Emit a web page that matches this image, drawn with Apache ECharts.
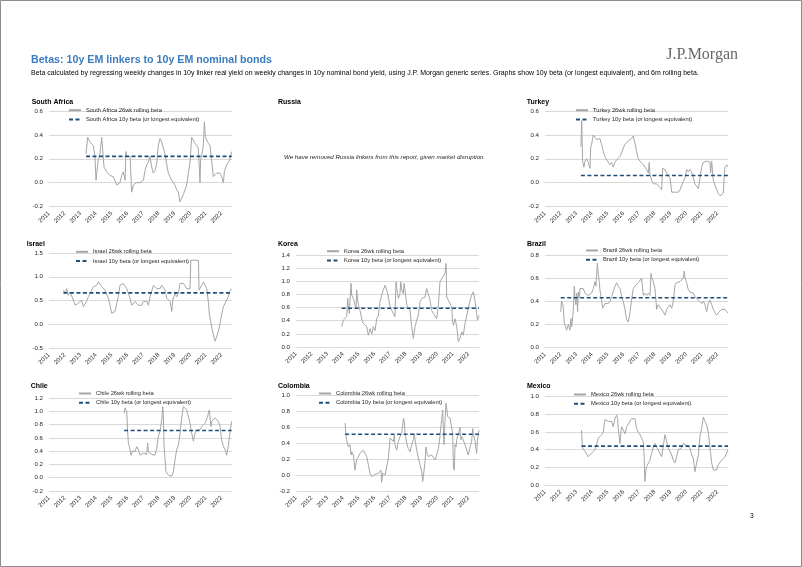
<!DOCTYPE html>
<html><head><meta charset="utf-8">
<script src="https://cdn.jsdelivr.net/npm/echarts@6/dist/echarts.min.js"></script>
<style>html,body{margin:0;padding:0;background:#fff}#c{width:802px;height:567px}</style>
</head><body><div id="c"></div>
<script>
// ---------- DATA ----------
const yearTicks = [2011,2012,2013,2014,2015,2016,2017,2018,2019,2020,2021,2022];
const xMin = 2011, xMax = 2022.67;

const countries = ['South Africa','Turkey','Israel','Korea','Brazil','Chile','Colombia','Mexico'];
const tenYearBeta = [0.22, 0.06, 0.66, 0.59, 0.43, 0.71, 0.51, 0.44];

const southAfrica = [[2013.36,0.24],[2013.47,0.38],[2013.61,0.34],[2013.72,0.34],[2013.83,0.31],[2013.93,0.22],[2014.00,0.02],[2014.15,0.20],[2014.25,0.24],[2014.36,0.38],[2014.46,0.39],[2014.51,0.13],[2014.68,0.09],[2014.89,0.06],[2015.10,0.05],[2015.32,-0.02],[2015.42,-0.03],[2015.53,0.00],[2015.63,0.06],[2015.74,0.09],[2015.85,0.02],[2015.91,0.26],[2015.95,0.22],[2016.06,0.22],[2016.17,0.22],[2016.27,-0.08],[2016.38,-0.02],[2016.48,-0.03],[2016.59,0.00],[2016.80,0.00],[2017.02,0.02],[2017.12,0.10],[2017.23,0.15],[2017.33,0.17],[2017.44,0.22],[2017.55,0.13],[2017.65,0.08],[2017.76,0.10],[2017.87,0.16],[2017.97,0.31],[2018.08,0.37],[2018.19,0.34],[2018.29,0.29],[2018.40,0.24],[2018.50,0.16],[2018.61,0.08],[2018.72,0.05],[2018.82,0.02],[2018.93,0.00],[2019.04,-0.02],[2019.14,-0.06],[2019.25,-0.08],[2019.35,-0.16],[2019.46,-0.17],[2019.57,-0.10],[2019.67,-0.06],[2019.78,-0.02],[2019.89,0.08],[2019.99,0.17],[2020.10,0.38],[2020.20,0.37],[2020.31,0.33],[2020.42,0.31],[2020.52,0.29],[2020.63,0.00],[2020.67,0.19],[2020.74,0.23],[2020.84,0.31],[2020.91,0.51],[2020.97,0.38],[2021.06,0.37],[2021.16,0.33],[2021.27,0.31],[2021.37,0.31],[2021.48,0.05],[2021.59,0.06],[2021.69,0.08],[2021.80,0.09],[2021.91,0.08],[2022.01,0.05],[2022.12,0.00],[2022.18,0.09],[2022.27,0.13],[2022.38,0.16],[2022.52,0.19],[2022.65,0.26]];

const turkey = [[2013.29,0.30],[2013.34,0.52],[2013.40,0.18],[2013.48,0.13],[2013.55,0.18],[2013.65,0.20],[2013.76,0.17],[2013.87,0.12],[2013.91,0.29],[2013.97,0.32],[2014.08,0.40],[2014.19,0.39],[2014.29,0.36],[2014.40,0.35],[2014.50,0.37],[2014.61,0.32],[2014.72,0.26],[2014.82,0.22],[2014.93,0.19],[2015.04,0.18],[2015.14,0.15],[2015.25,0.17],[2015.35,0.13],[2015.46,0.17],[2015.57,0.19],[2015.67,0.20],[2015.78,0.22],[2015.89,0.25],[2015.99,0.29],[2016.10,0.32],[2016.21,0.33],[2016.31,0.35],[2016.42,0.36],[2016.52,0.37],[2016.63,0.39],[2016.74,0.33],[2016.84,0.26],[2016.95,0.20],[2017.06,0.18],[2017.16,0.17],[2017.27,0.15],[2017.37,0.13],[2017.48,0.11],[2017.59,0.08],[2017.65,0.17],[2017.69,0.07],[2017.80,0.02],[2017.91,-0.01],[2018.01,0.00],[2018.12,-0.01],[2018.22,-0.02],[2018.33,-0.04],[2018.44,-0.06],[2018.50,0.12],[2018.59,0.12],[2018.65,0.11],[2018.76,0.08],[2018.86,0.07],[2018.97,0.04],[2019.08,-0.08],[2019.18,-0.09],[2019.29,-0.08],[2019.39,-0.09],[2019.50,-0.08],[2019.61,-0.06],[2019.71,-0.05],[2019.82,0.01],[2019.93,0.04],[2020.03,0.11],[2020.14,0.09],[2020.24,0.11],[2020.35,0.09],[2020.46,0.04],[2020.56,-0.01],[2020.67,-0.02],[2020.78,-0.05],[2020.88,-0.06],[2020.99,0.13],[2021.10,0.17],[2021.20,0.18],[2021.31,0.18],[2021.41,0.18],[2021.52,0.17],[2021.56,0.08],[2021.63,0.18],[2021.73,0.02],[2021.84,-0.02],[2021.95,-0.06],[2022.05,-0.09],[2022.16,-0.11],[2022.26,-0.12],[2022.37,-0.09],[2022.43,0.06],[2022.48,0.13],[2022.58,0.15],[2022.67,0.13]];

const israel = [[2011.92,0.72],[2012.02,0.65],[2012.13,0.75],[2012.23,0.61],[2012.34,0.68],[2012.45,0.72],[2012.55,0.51],[2012.66,0.40],[2012.77,0.40],[2012.87,0.44],[2012.98,0.40],[2013.08,0.51],[2013.19,0.37],[2013.30,0.34],[2013.40,0.48],[2013.51,0.58],[2013.62,0.65],[2013.72,0.72],[2013.83,0.79],[2013.94,0.75],[2014.04,0.82],[2014.15,0.89],[2014.21,0.93],[2014.25,0.89],[2014.36,0.79],[2014.47,0.75],[2014.57,0.72],[2014.68,0.68],[2014.79,0.54],[2014.89,0.40],[2015.00,0.23],[2015.10,0.20],[2015.21,0.27],[2015.32,0.30],[2015.42,0.58],[2015.53,0.82],[2015.64,0.86],[2015.74,0.86],[2015.85,0.84],[2015.96,0.75],[2016.06,0.65],[2016.17,0.55],[2016.27,0.40],[2016.38,0.44],[2016.49,0.48],[2016.59,0.44],[2016.70,0.40],[2016.81,0.44],[2016.91,0.40],[2017.02,0.48],[2017.12,0.44],[2017.23,0.48],[2017.34,0.40],[2017.44,0.58],[2017.55,0.55],[2017.66,0.82],[2017.76,0.79],[2017.87,0.75],[2017.97,0.79],[2018.08,0.75],[2018.19,0.82],[2018.29,0.79],[2018.40,0.72],[2018.51,0.55],[2018.61,0.51],[2018.72,0.48],[2018.83,0.27],[2018.89,0.51],[2018.93,0.55],[2019.04,0.65],[2019.14,0.58],[2019.25,0.65],[2019.36,0.86],[2019.46,0.89],[2019.57,0.86],[2019.68,0.82],[2019.78,0.75],[2019.89,0.72],[2019.99,0.75],[2020.04,1.35],[2020.30,1.35],[2020.53,1.34],[2020.57,0.72],[2020.63,0.72],[2020.74,0.82],[2020.85,0.89],[2020.95,0.86],[2021.06,0.75],[2021.16,0.48],[2021.23,0.20],[2021.31,0.06],[2021.38,-0.08],[2021.48,-0.22],[2021.59,-0.36],[2021.70,-0.33],[2021.80,-0.15],[2021.91,0.02],[2022.01,0.20],[2022.12,0.37],[2022.23,0.44],[2022.33,0.51],[2022.44,0.58],[2022.50,0.68],[2022.65,0.75]];

const korea = [[2013.91,0.31],[2014.02,0.41],[2014.13,0.43],[2014.23,0.46],[2014.30,0.74],[2014.34,0.61],[2014.40,0.51],[2014.44,0.69],[2014.51,0.97],[2014.55,0.79],[2014.66,0.74],[2014.76,0.64],[2014.83,0.59],[2014.87,0.87],[2014.93,0.71],[2014.98,0.64],[2015.08,0.56],[2015.19,0.43],[2015.29,0.36],[2015.40,0.33],[2015.51,0.31],[2015.61,0.18],[2015.72,0.28],[2015.83,0.20],[2015.93,0.31],[2016.04,0.25],[2016.15,0.43],[2016.25,0.48],[2016.36,0.69],[2016.46,0.79],[2016.57,0.87],[2016.68,0.94],[2016.78,0.87],[2016.89,0.76],[2017.00,0.61],[2017.10,0.56],[2017.21,0.53],[2017.31,0.46],[2017.38,0.99],[2017.42,0.89],[2017.53,0.74],[2017.63,0.81],[2017.68,0.99],[2017.74,0.87],[2017.85,0.81],[2017.89,0.97],[2017.95,0.87],[2018.06,0.64],[2018.16,0.61],[2018.27,0.56],[2018.38,0.31],[2018.48,0.13],[2018.59,0.31],[2018.70,0.41],[2018.80,0.48],[2018.91,0.69],[2019.02,0.74],[2019.12,0.76],[2019.23,0.76],[2019.33,0.89],[2019.44,0.81],[2019.55,0.71],[2019.65,0.56],[2019.76,0.51],[2019.87,0.48],[2019.97,0.43],[2020.08,0.64],[2020.18,0.99],[2020.29,1.04],[2020.40,1.07],[2020.50,1.12],[2020.57,1.27],[2020.61,0.76],[2020.72,0.71],[2020.82,0.74],[2020.93,0.61],[2020.99,0.38],[2021.04,0.33],[2021.14,0.43],[2021.25,0.31],[2021.35,0.08],[2021.46,0.13],[2021.57,0.23],[2021.67,0.18],[2021.78,0.36],[2021.89,0.48],[2021.99,0.59],[2022.10,0.71],[2022.20,0.79],[2022.31,0.84],[2022.35,0.87],[2022.42,0.69],[2022.52,0.51],[2022.58,0.41],[2022.67,0.48]];

const brazil = [[2012.00,0.31],[2012.06,0.40],[2012.12,0.38],[2012.17,0.34],[2012.23,0.21],[2012.27,0.20],[2012.38,0.15],[2012.49,0.20],[2012.59,0.15],[2012.66,0.25],[2012.70,0.18],[2012.80,0.31],[2012.87,0.53],[2012.91,0.44],[2012.97,0.37],[2013.02,0.47],[2013.08,0.31],[2013.12,0.48],[2013.19,0.43],[2013.23,0.51],[2013.33,0.50],[2013.44,0.51],[2013.55,0.47],[2013.65,0.48],[2013.76,0.45],[2013.87,0.44],[2013.97,0.47],[2014.08,0.51],[2014.19,0.57],[2014.25,0.53],[2014.29,0.63],[2014.34,0.73],[2014.40,0.63],[2014.46,0.57],[2014.50,0.50],[2014.61,0.41],[2014.67,0.34],[2014.72,0.35],[2014.82,0.38],[2014.93,0.37],[2015.04,0.38],[2015.14,0.40],[2015.25,0.44],[2015.35,0.45],[2015.46,0.53],[2015.57,0.56],[2015.67,0.53],[2015.78,0.51],[2015.89,0.44],[2015.99,0.40],[2016.10,0.33],[2016.21,0.24],[2016.31,0.22],[2016.42,0.30],[2016.52,0.41],[2016.63,0.51],[2016.74,0.53],[2016.84,0.54],[2016.95,0.56],[2017.06,0.57],[2017.16,0.60],[2017.27,0.45],[2017.37,0.47],[2017.48,0.45],[2017.59,0.47],[2017.69,0.45],[2017.76,0.64],[2017.80,0.61],[2017.91,0.57],[2018.01,0.51],[2018.08,0.40],[2018.12,0.33],[2018.22,0.37],[2018.33,0.35],[2018.44,0.33],[2018.54,0.31],[2018.65,0.28],[2018.76,0.33],[2018.86,0.35],[2018.97,0.37],[2019.08,0.34],[2019.18,0.40],[2019.29,0.54],[2019.39,0.56],[2019.50,0.56],[2019.61,0.57],[2019.71,0.58],[2019.82,0.60],[2019.88,0.66],[2019.93,0.60],[2020.03,0.56],[2020.14,0.50],[2020.24,0.48],[2020.35,0.48],[2020.46,0.47],[2020.56,0.44],[2020.67,0.43],[2020.78,0.41],[2020.88,0.40],[2020.99,0.38],[2021.10,0.40],[2021.20,0.37],[2021.31,0.31],[2021.41,0.38],[2021.52,0.41],[2021.63,0.37],[2021.73,0.33],[2021.84,0.30],[2021.95,0.28],[2022.05,0.30],[2022.16,0.31],[2022.26,0.33],[2022.37,0.34],[2022.48,0.33],[2022.58,0.31],[2022.67,0.30]];

const chile = [[2015.79,0.97],[2015.85,1.05],[2015.91,1.07],[2015.96,1.00],[2016.00,0.75],[2016.06,0.52],[2016.13,0.47],[2016.17,0.44],[2016.23,0.34],[2016.27,0.31],[2016.34,0.41],[2016.38,0.44],[2016.49,0.39],[2016.59,0.47],[2016.70,0.42],[2016.81,0.34],[2016.91,0.37],[2017.02,0.37],[2017.12,0.35],[2017.23,0.35],[2017.29,0.52],[2017.34,0.39],[2017.44,0.37],[2017.55,0.35],[2017.66,0.37],[2017.76,0.34],[2017.87,0.44],[2017.97,0.62],[2018.08,0.70],[2018.19,0.87],[2018.25,1.07],[2018.29,0.95],[2018.34,0.47],[2018.40,0.29],[2018.46,0.09],[2018.51,0.07],[2018.61,0.04],[2018.72,0.03],[2018.83,0.02],[2018.93,0.09],[2019.04,0.27],[2019.14,0.42],[2019.25,0.49],[2019.36,0.67],[2019.46,0.90],[2019.57,1.07],[2019.63,1.10],[2019.68,1.07],[2019.78,1.02],[2019.89,1.00],[2019.99,0.82],[2020.10,0.67],[2020.21,0.55],[2020.31,0.67],[2020.42,0.72],[2020.53,0.75],[2020.63,0.72],[2020.74,0.77],[2020.85,0.75],[2020.95,0.82],[2021.06,0.80],[2021.12,0.92],[2021.16,0.97],[2021.23,1.02],[2021.27,0.90],[2021.33,0.77],[2021.38,0.85],[2021.48,0.85],[2021.59,0.90],[2021.70,0.87],[2021.80,0.85],[2021.91,0.77],[2022.01,0.57],[2022.12,0.47],[2022.23,0.42],[2022.33,0.34],[2022.44,0.49],[2022.55,0.70],[2022.65,0.85]];

const colombia = [[2014.13,0.65],[2014.19,0.48],[2014.23,0.44],[2014.34,0.35],[2014.44,0.38],[2014.51,0.25],[2014.55,0.29],[2014.66,0.25],[2014.72,0.15],[2014.76,0.06],[2014.83,0.15],[2014.87,0.19],[2014.98,0.23],[2015.08,0.27],[2015.19,0.29],[2015.29,0.31],[2015.40,0.27],[2015.51,0.23],[2015.61,0.13],[2015.72,0.02],[2015.83,-0.02],[2015.93,0.00],[2016.04,0.01],[2016.15,0.02],[2016.25,0.02],[2016.36,0.00],[2016.42,0.06],[2016.46,-0.09],[2016.53,0.02],[2016.57,0.04],[2016.68,0.00],[2016.78,0.00],[2016.89,0.21],[2016.95,0.23],[2017.00,0.46],[2017.10,0.44],[2017.21,0.42],[2017.27,0.50],[2017.31,0.38],[2017.42,0.31],[2017.53,0.42],[2017.63,0.48],[2017.74,0.52],[2017.85,0.71],[2017.91,0.67],[2017.95,0.52],[2018.06,0.40],[2018.16,0.33],[2018.27,0.29],[2018.38,0.38],[2018.48,0.44],[2018.55,0.52],[2018.59,0.44],[2018.70,0.31],[2018.80,0.21],[2018.91,0.13],[2019.02,0.04],[2019.08,-0.08],[2019.12,-0.02],[2019.19,0.10],[2019.23,0.17],[2019.29,0.35],[2019.33,0.29],[2019.44,0.23],[2019.55,0.21],[2019.65,0.25],[2019.76,0.23],[2019.87,0.19],[2019.97,0.25],[2020.08,0.33],[2020.18,0.48],[2020.25,0.63],[2020.29,0.69],[2020.35,0.81],[2020.40,0.56],[2020.44,0.38],[2020.50,0.67],[2020.57,0.90],[2020.61,0.83],[2020.67,0.73],[2020.72,0.71],[2020.82,0.71],[2020.93,0.70],[2020.99,0.52],[2021.04,0.10],[2021.10,0.06],[2021.14,0.38],[2021.21,0.35],[2021.25,0.44],[2021.35,0.46],[2021.42,0.56],[2021.46,0.60],[2021.52,0.44],[2021.57,0.48],[2021.67,0.44],[2021.78,0.42],[2021.89,0.31],[2021.99,0.25],[2022.06,0.31],[2022.10,0.35],[2022.20,0.42],[2022.27,0.58],[2022.31,0.52],[2022.42,0.42],[2022.52,0.27],[2022.57,0.44],[2022.63,0.50],[2022.67,0.56]];

const mexico = [[2013.33,0.62],[2013.38,0.42],[2013.44,0.40],[2013.55,0.38],[2013.65,0.36],[2013.76,0.32],[2013.87,0.34],[2013.97,0.36],[2014.08,0.34],[2014.19,0.40],[2014.29,0.38],[2014.40,0.53],[2014.50,0.51],[2014.61,0.57],[2014.72,0.60],[2014.82,0.74],[2014.93,0.72],[2015.04,0.72],[2015.14,0.70],[2015.25,0.72],[2015.35,0.66],[2015.46,0.75],[2015.57,0.79],[2015.63,0.75],[2015.67,0.64],[2015.78,0.47],[2015.84,0.60],[2015.89,0.66],[2015.99,0.68],[2016.10,0.58],[2016.21,0.66],[2016.31,0.68],[2016.42,0.72],[2016.52,0.75],[2016.63,0.74],[2016.74,0.75],[2016.84,0.64],[2016.95,0.60],[2017.06,0.57],[2017.16,0.53],[2017.27,0.49],[2017.33,0.30],[2017.37,0.04],[2017.44,0.17],[2017.48,0.21],[2017.59,0.23],[2017.69,0.28],[2017.80,0.36],[2017.91,0.43],[2018.01,0.47],[2018.12,0.43],[2018.22,0.40],[2018.33,0.36],[2018.44,0.32],[2018.54,0.30],[2018.65,0.57],[2018.76,0.49],[2018.86,0.42],[2018.97,0.43],[2019.08,0.34],[2019.18,0.28],[2019.29,0.25],[2019.39,0.32],[2019.50,0.40],[2019.61,0.38],[2019.71,0.42],[2019.82,0.47],[2019.93,0.49],[2020.03,0.45],[2020.14,0.43],[2020.24,0.42],[2020.35,0.34],[2020.46,0.30],[2020.56,0.15],[2020.67,0.25],[2020.78,0.34],[2020.88,0.55],[2020.99,0.64],[2021.10,0.77],[2021.20,0.72],[2021.31,0.68],[2021.41,0.60],[2021.52,0.42],[2021.63,0.25],[2021.73,0.17],[2021.84,0.15],[2021.95,0.17],[2022.05,0.23],[2022.16,0.25],[2022.26,0.28],[2022.37,0.30],[2022.48,0.32],[2022.58,0.32],[2022.67,0.40]];

const rollingSeries = [southAfrica, turkey, israel, korea, brazil, chile, colombia, mexico];
// y-axis ranges [min, max, interval]
const yRanges = [[-0.2,0.6,0.2],[-0.2,0.6,0.2],[-0.5,1.5,0.5],[0,1.4,0.2],[0,0.8,0.2],[-0.2,1.2,0.2],[-0.2,1.0,0.2],[0,1.0,0.2]];

const headTitle = 'Betas: 10y EM linkers to 10y EM nominal bonds';
const headSub = 'Beta calculated by regressing weekly changes in 10y linker real yield on weekly changes in 10y nominal bond yield, using J.P. Morgan generic series. Graphs show 10y beta (or longest equivalent), and 6m rolling beta.';
const russiaNote = 'We have removed Russia linkers from this report, given market disruption.';

// ---------- LAYOUT ----------
const layout = [
  {left:49, top:111, bottom:206.5, tx:31.7, ty:99,  lx:70,  ly:110.7},
  {left:545,top:111, bottom:206.5, tx:526.7,ty:99,  lx:577, ly:110.7},
  {left:49, top:253, bottom:348,   tx:26.7, ty:241, lx:77,  ly:252.3},
  {left:296,top:255, bottom:347,   tx:278,  ty:241, lx:328, ly:251.7},
  {left:545,top:255, bottom:347.5, tx:527,  ty:241, lx:587, ly:251},
  {left:49, top:398, bottom:491,   tx:30.7, ty:383, lx:80,  ly:394},
  {left:296,top:395, bottom:491,   tx:278,  ty:383, lx:320, ly:394},
  {left:545,top:396.7,bottom:485,  tx:527,  ty:383, lx:575, ly:395}
];
const plotW = 183;

function hasFont(f){
  const c=document.createElement('canvas').getContext('2d');
  const s='abcdefghijklmnopqrstuvwxyz0123456789';
  c.font='20px monospace'; const a=c.measureText(s).width;
  c.font="20px '"+f+"', monospace"; return c.measureText(s).width!==a;
}
const NARROW = hasFont('Liberation Sans Narrow');
const FF = NARROW ? "'Liberation Sans Narrow', sans-serif" : "'Liberation Sans', sans-serif";
const K = NARROW ? 1 : 0.82;

const GRAY = '#a6a6a6', BLUE = '#1f4e79', GRID = '#d9d9d9', TXT = '#262626';
const CLEAR = 'rgba(0,0,0,0)';

const grids=[], xAxes=[], yAxes=[], series=[], legends=[], titles=[];
countries.forEach((name,i)=>{
  const L = layout[i], d = rollingSeries[i], yr = yRanges[i];
  grids.push({left:L.left, top:L.top, width:plotW, height:L.bottom-L.top, containLabel:false});
  xAxes.push({type:'value', gridIndex:i, min:xMin, max:xMax, interval:1,
    axisLine:{show:true, lineStyle:{color:GRID, width:1}}, axisTick:{show:false}, splitLine:{show:false},
    axisLabel:{rotate:45, margin:6, fontSize:7.5*K, fontFamily:FF, color:TXT,
      formatter:v=> yearTicks.indexOf(Math.round(v))>=0 && Math.abs(v-Math.round(v))<1e-6 ? String(Math.round(v)) : ''}});
  yAxes.push({type:'value', gridIndex:i, min:yr[0], max:yr[1], interval:yr[2],
    axisLine:{show:false}, axisTick:{show:false},
    splitLine:{show:true, lineStyle:{color:GRID, width:1}},
    axisLabel:{margin:6, fontSize:7.5*K, fontFamily:FF, color:TXT, formatter:v=>(Math.abs(v)<1e-9?0:v).toFixed(1)}});
  const n1 = name+' 26wk rolling beta', n2 = name+' 10y beta (or longest equivalent)';
  series.push({name:n1, type:'line', xAxisIndex:i, yAxisIndex:i, data:d, symbol:'none', silent:true,
    lineStyle:{color:GRAY, width:1}, itemStyle:{color:GRAY}, animation:false, z:2});
  series.push({name:n2, type:'line', xAxisIndex:i, yAxisIndex:i,
    data:[[d[0][0], tenYearBeta[i]],[d[d.length-1][0], tenYearBeta[i]]], symbol:'none', silent:true,
    lineStyle:{color:BLUE, width:1.6, type:[4,2.5]}, itemStyle:{color:BLUE}, animation:false, z:3});
  legends.push({data:[n1,n2], orient:'vertical', left:L.lx-2, top:L.ly-4.5, itemGap:1.3, itemWidth:12, itemHeight:8,
    padding:0, selectedMode:false,
    itemStyle:{color:CLEAR, borderColor:CLEAR, borderWidth:0, opacity:0},
    textStyle:{fontSize:7*K, fontFamily:FF, color:TXT, lineHeight:8}});
  titles.push({text:name, left:L.tx, top:L.ty, padding:0,
    textStyle:{fontSize:8.5*K, fontWeight:'bold', fontFamily:FF, color:'#000'}});
});
titles.push({text:'Russia', left:278, top:99, padding:0, textStyle:{fontSize:8.5*K, fontWeight:'bold', fontFamily:FF, color:'#000'}});

const chart = echarts.init(document.getElementById('c'), null, {renderer:'canvas'});
chart.setOption({
  backgroundColor:'#fff', animation:false,
  title:titles, grid:grids, xAxis:xAxes, yAxis:yAxes, series:series, legend:legends,
  graphic:[
    {type:'rect', shape:{x:0.5,y:0.5,width:801,height:566}, style:{fill:'none', stroke:'#8c8c8c', lineWidth:1}, silent:true},
    {type:'text', left:31, top:55, style:{text:headTitle, font:'bold '+(13*K)+'px '+FF, fill:'#3b7cc0'}},
    {type:'text', left:31, top:69.5, style:{text:headSub, font:(8.5*K)+'px '+FF, fill:'#000'}},
    {type:'text', right:64, top:47, style:{text:'J.P.Morgan', font:"16px 'Liberation Serif', serif", fill:'#666'}},
    {type:'text', left:284, top:154.5, style:{text:russiaNote, font:'italic '+(7.5*K)+'px '+FF, fill:'#262626'}},
    {type:'text', left:750, top:513, style:{text:'3', font:(8*K)+'px '+FF, fill:'#000'}}
  ]
});
</script></body></html>
